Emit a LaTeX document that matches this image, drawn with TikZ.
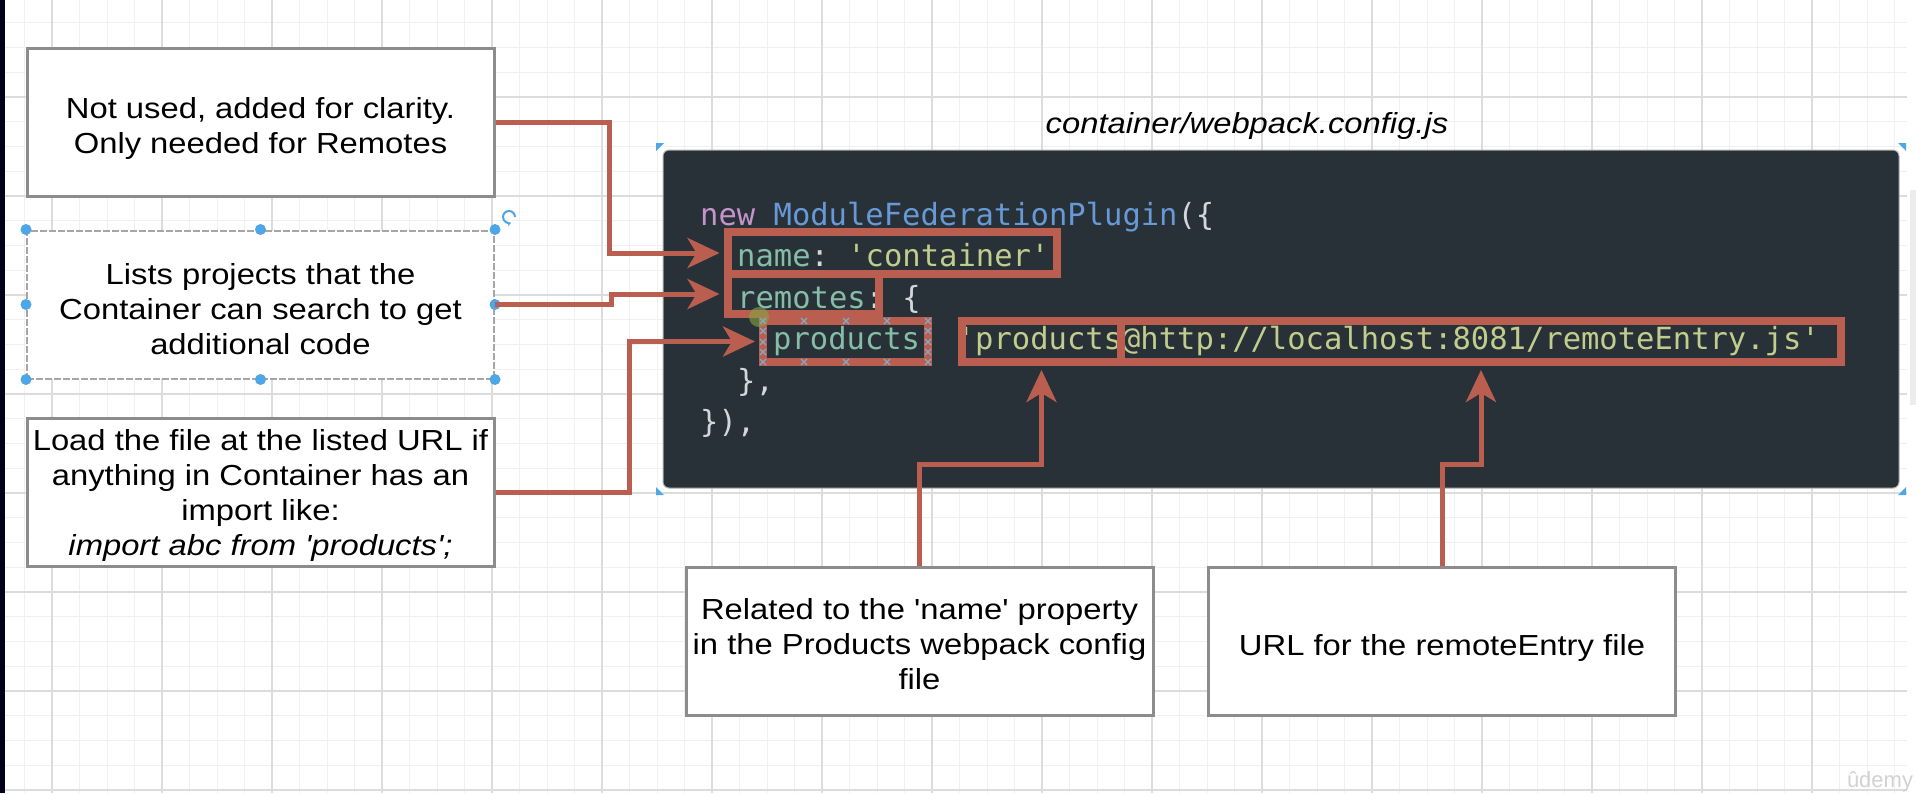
\documentclass[tikz,border=0pt]{standalone}
\usepackage{fontspec}
\setmainfont{Liberation Sans}[Ligatures=TeXOff]
\setmonofont{DejaVu Sans Mono}
\usepackage{graphicx}
\usetikzlibrary{arrows.meta}
\definecolor{codebg}{RGB}{40,49,55}
\definecolor{cnew}{RGB}{197,148,205}
\definecolor{cfunc}{RGB}{102,153,214}
\definecolor{cpunc}{RGB}{210,215,222}
\definecolor{ckey}{RGB}{133,189,166}
\definecolor{cstr}{RGB}{194,204,140}
\definecolor{redc}{RGB}{186,94,80}
\definecolor{boxgray}{RGB}{140,140,140}
\definecolor{hblue}{RGB}{77,166,230}
\definecolor{gminc}{RGB}{240,240,240}
\definecolor{gmajc}{RGB}{220,220,220}
\newcommand\btxt[2][-7pt]{\raisebox{#1}[\height][\depth]{\scalebox{1.13}[1]{\begin{tabular}{@{}c@{}}#2\end{tabular}}}}
\begin{document}
\begin{tikzpicture}[x=1pt,y=-1pt,
  gmin/.style={draw=gminc,line width=1pt},
  gmaj/.style={draw=gmajc,line width=1.2pt},
  box/.style={draw=boxgray,line width=3pt,fill=white,rectangle,inner sep=0pt,
    minimum width=467pt,minimum height=148pt,font=\fontsize{29}{35}\selectfont},
  hl/.style={draw=redc,line width=8pt,rectangle,inner sep=0pt},
  arr/.style={draw=redc,line width=5pt,line join=miter,shorten >=4pt,
    -{Stealth[length=32pt,width=30pt,inset=9pt]}},
  code/.style={anchor=base west,inner sep=0pt,font=\ttfamily\fontsize{30.5}{36}\selectfont},
  handle/.style={fill=hblue}]
\useasboundingbox (0,0) rectangle (1916,793);
\fill[white] (0,0) rectangle (1916,793);
% grid
\foreach \i in {1,...,69} \draw[gmin] ({-3+27.5*\i},0) -- ({-3+27.5*\i},793);
\foreach \j in {1,...,32} \draw[gmin] (5,{-2+24.75*\j}) -- (1907,{-2+24.75*\j});
\foreach \i in {0,...,16} \draw[gmaj] ({52+110*\i},0) -- ({52+110*\i},793);
\foreach \j in {1,...,8} \draw[gmaj] (5,{-2+99*\j}) -- (1907,{-2+99*\j});
\fill[white] (1907,0) rectangle (1916,793);
\fill[gray!15] (1910,190) rectangle (1916,405);
\fill[black!88!blue] (0,0) rectangle (5,793);
% code panel
\fill[codebg,draw=gray!60,line width=1pt,rounded corners=6pt] (663,150) rectangle (1899,488);
\fill[hblue] (656,143) -- (664,143) -- (656,151) -- cycle;
\fill[hblue] (1906,143) -- (1898,143) -- (1906,151) -- cycle;
\fill[hblue] (656,495) -- (664,495) -- (656,487) -- cycle;
\fill[hblue] (1906,495) -- (1898,495) -- (1906,487) -- cycle;
\node[anchor=base,inner sep=0pt,font=\fontsize{29}{35}\selectfont] (title) at (1247,133)
  {\scalebox{1.13}[1]{\itshape container/webpack.config.js}};
\node[code] (l1) at (700,225) {\textcolor{cnew}{new}\ \textcolor{cfunc}{ModuleFederationPlugin}\textcolor{cpunc}{(\{}};
\node[code] (l2) at (737,266) {\textcolor{ckey}{name}\textcolor{cpunc}{:}\ \textcolor{cstr}{'container'}\textcolor{cpunc}{,}};
\node[code] (l3) at (737,308) {\textcolor{ckey}{remotes}\textcolor{cpunc}{:}\ \textcolor{cpunc}{\{}};
\node[code] (l4) at (773,349) {\textcolor{ckey}{products}\textcolor{cpunc}{:}\ \textcolor{cstr}{'products@http://localhost:8081/remoteEntry.js'}};
\node[code] (l5) at (737,391) {\textcolor{cpunc}{\},}};
\node[code] (l6) at (700,432) {\textcolor{cpunc}{\}),}};
% highlight boxes
\node[hl,minimum width=329.5pt,minimum height=42pt] (hname) at (892.25,253) {};
\node[hl,minimum width=151.5pt,minimum height=40pt] (hrem) at (803.25,294) {};
\node[hl,minimum width=165pt,minimum height=41pt] (hprod) at (845.5,341.5) {};
\node[hl,minimum width=159pt,minimum height=41pt] (hprod2) at (1041.5,341.5) {};
\node[hl,minimum width=720pt,minimum height=41pt] (hurl) at (1481,341.5) {};
% selection marks on hprod
\fill[yellow!60!green!70!black,opacity=0.6] (hprod.north west) circle[radius=10pt];
\foreach \p in {(763,321),(804,321),(846,321),(887,321),(928,321),(763,362),(804,362),(846,362),(887,362),(928,362),(763,331),(763,342),(763,352),(928,331),(928,342),(928,352)}
  \draw[hblue!60!gray!80!white,line width=1.2pt] \p ++(-3,-3) -- ++(6,6) \p ++(-3,3) -- ++(6,-6);
% text boxes
\node[box] (b1) at (260.5,122) {\btxt{Not used, added for clarity.\\Only needed for Remotes}};
\node[box,draw=gray!70,line width=2pt,dash pattern=on 7pt off 2pt] (b2) at (260.5,304.5) {\btxt[-8pt]{Lists projects that the\\Container can search to get\\additional code}};
\node[box] (b3) at (260.5,492.5) {\btxt[-3pt]{Load the file at the listed URL if\\anything in Container has an\\import like:\\\textit{import abc from 'products';}}};
\node[box] (b4) at (919.5,641.5) {\btxt[-6pt]{Related to the 'name' property\\in the Products webpack config\\file}};
\node[box] (b5) at (1442,641.5) {\btxt{URL for the remoteEntry file}};
% selection handles on b2
\foreach \a in {north west,north,north east,west,east,south west,south,south east}
  \fill[handle] (b2.\a) circle[radius=5.5pt];
\draw[hblue,line width=2pt,-{Stealth[length=4pt,width=5pt]}] (515,217) arc[start angle=0,end angle=290,radius=6pt];
% connectors
\draw[arr] (b1.east) -- ++(114,0) |- (hname.west);
\draw[arr] (b2.east) -- ++(116,0) |- (hrem.west);
\draw[arr] (b3.east) -- ++(134,0) |- (hprod.west);
\draw[arr] (b4.north) -- ++(0,-102) -| (hprod2.south);
\draw[arr] (b5.north) -- ++(0,-102) -| (hurl.south);
\node[text=gray!35,font=\fontsize{22}{22}\selectfont,inner sep=0pt] (wm) at (1880,782) {ûdemy};
\end{tikzpicture}
\end{document}
